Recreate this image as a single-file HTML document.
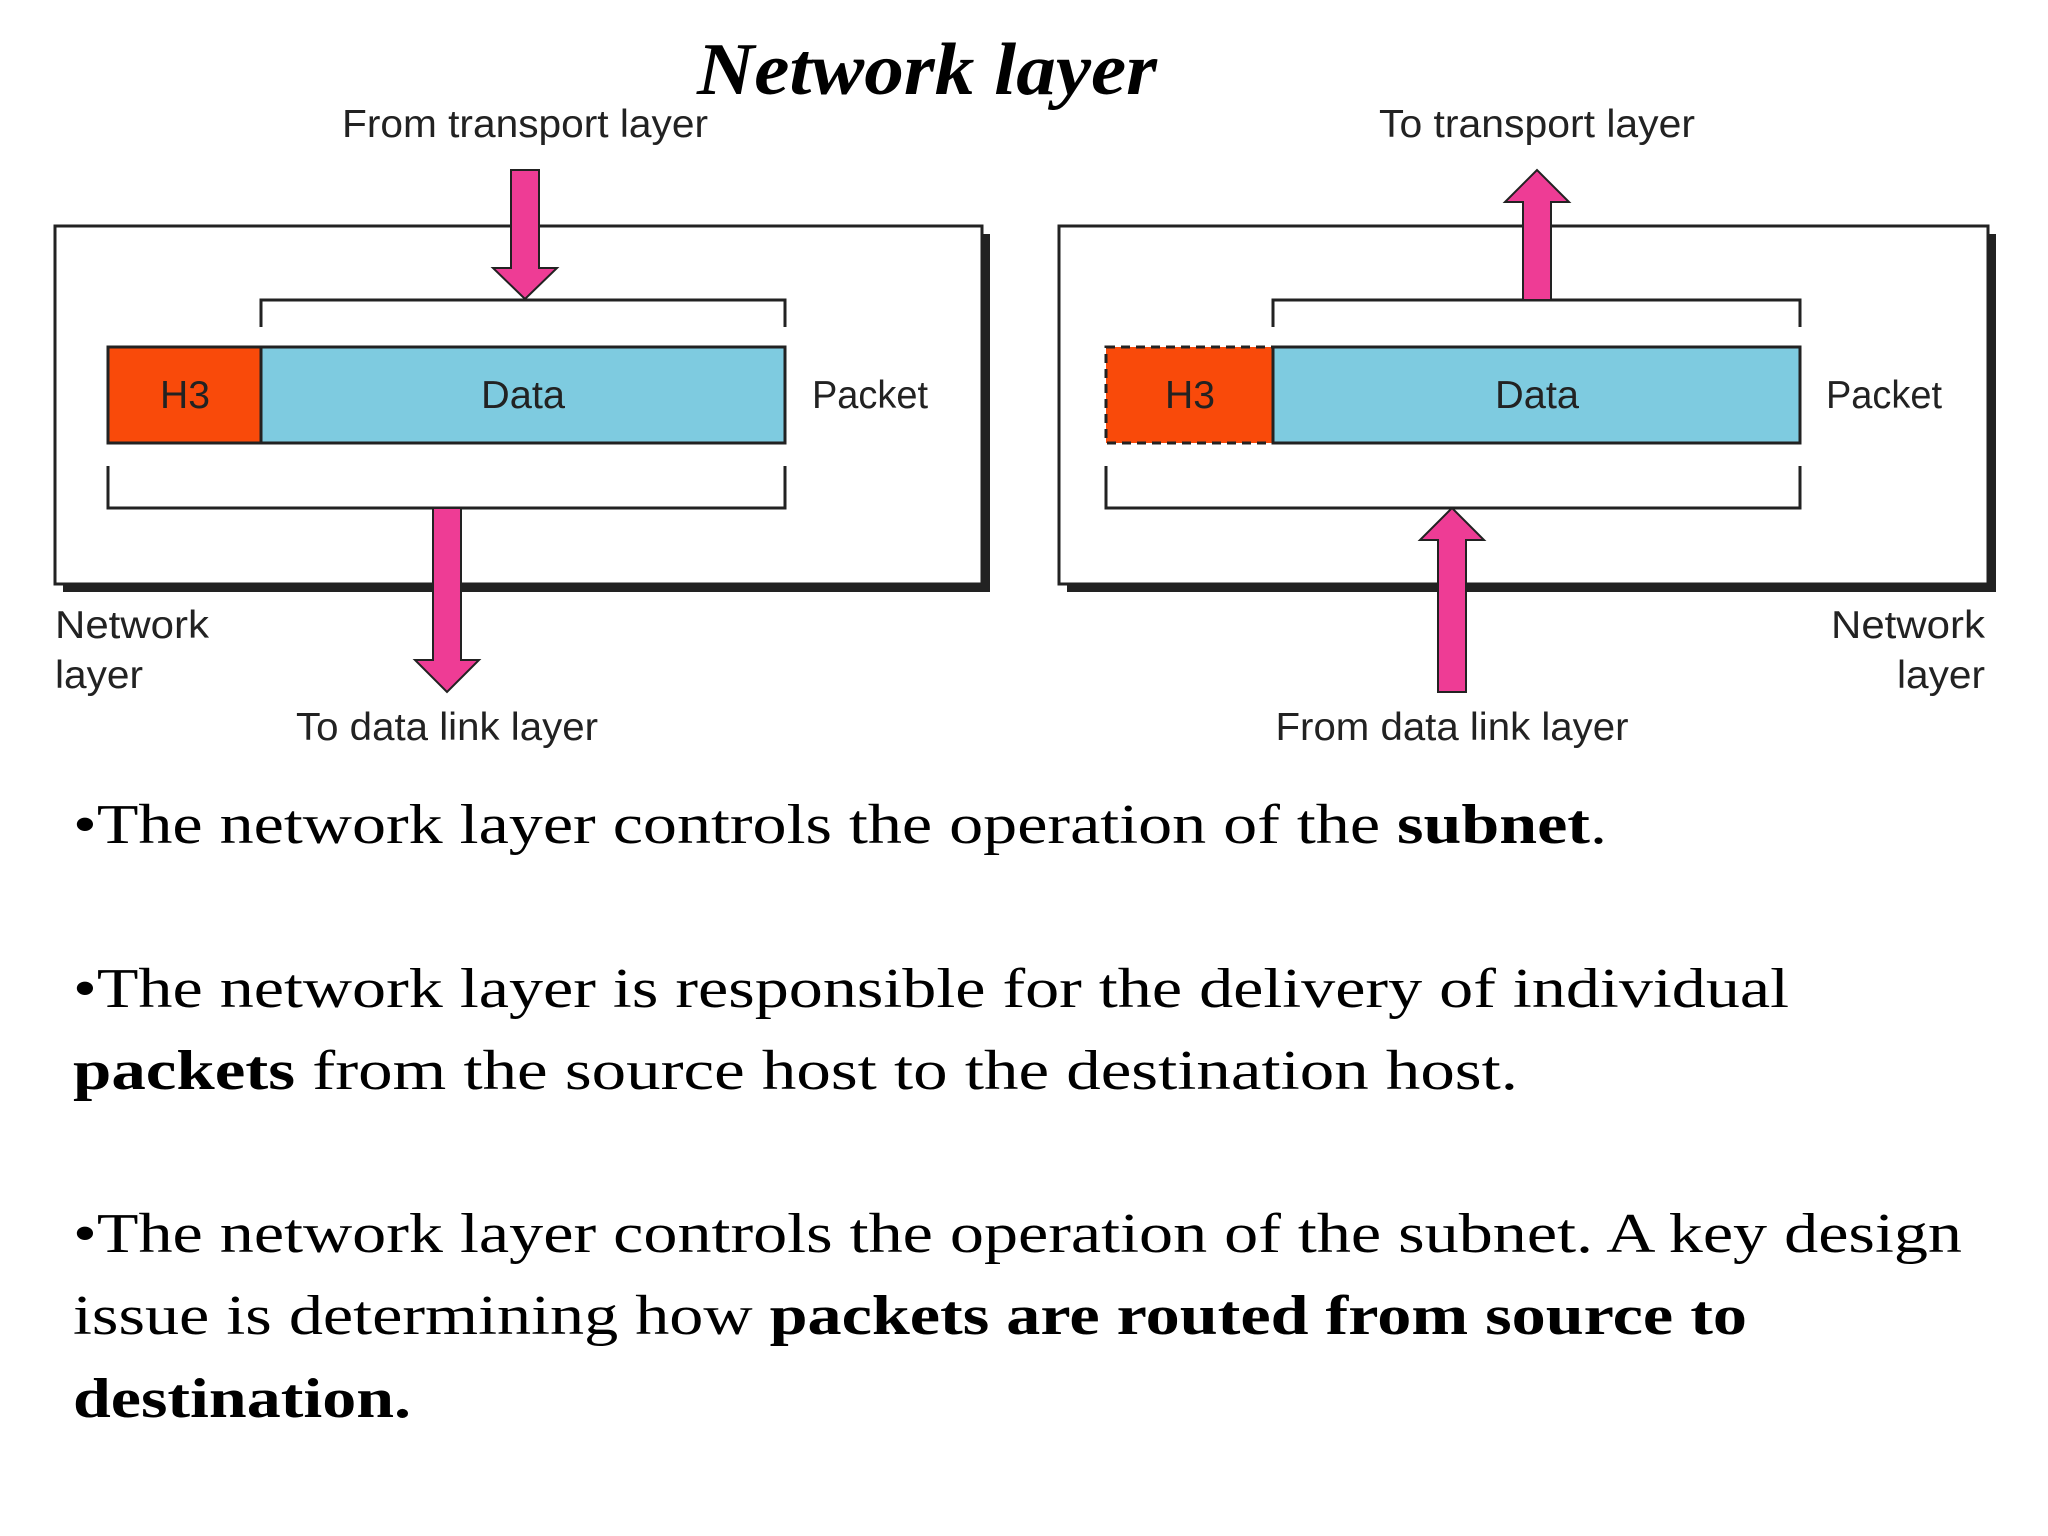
<!DOCTYPE html>
<html><head><meta charset="utf-8"><style>
html,body{margin:0;padding:0;background:#fff;}
svg{display:block;}
.d{font-family:"Liberation Sans",sans-serif;font-size:39px;fill:#222;}
.b{font-family:"Liberation Serif",serif;font-size:56px;fill:#000;}
</style></head><body>
<svg width="2048" height="1536" viewBox="0 0 2048 1536" xmlns="http://www.w3.org/2000/svg">
<rect width="2048" height="1536" fill="#fff"/>
<text x="927" y="94" text-anchor="middle" font-family="Liberation Serif,serif" font-size="74" font-weight="bold" font-style="italic" fill="#000" textLength="460" lengthAdjust="spacingAndGlyphs">Network layer</text>

<!-- Left diagram -->
<rect x="63" y="234" width="927" height="358" fill="#222"/>
<rect x="55" y="226" width="927" height="358" fill="#fff" stroke="#222" stroke-width="3"/>
<rect x="108" y="347" width="153" height="96" fill="#f94a0a" stroke="#222" stroke-width="3"/>
<rect x="261" y="347" width="524" height="96" fill="#7ecbe0" stroke="#222" stroke-width="3"/>
<polyline points="261,327 261,300 785,300 785,327" fill="none" stroke="#222" stroke-width="3"/>
<polyline points="108,466 108,508 785,508 785,466" fill="none" stroke="#222" stroke-width="3"/>
<polygon points="511,170 539,170 539,268 557,268 525,299 493,268 511,268" fill="#ee3c95" stroke="#222" stroke-width="2"/>
<polygon points="433,508 461,508 461,660 479,660 447,692 415,660 433,660" fill="#ee3c95" stroke="#222" stroke-width="2"/>
<text class="d" x="185" y="408" text-anchor="middle" textLength="50" lengthAdjust="spacingAndGlyphs">H3</text>
<text class="d" x="523" y="408" text-anchor="middle" textLength="84" lengthAdjust="spacingAndGlyphs">Data</text>
<text class="d" x="812" y="408" textLength="116" lengthAdjust="spacingAndGlyphs">Packet</text>
<text class="d" x="525" y="137" text-anchor="middle" textLength="366" lengthAdjust="spacingAndGlyphs">From transport layer</text>
<text class="d" x="55" y="638" textLength="154" lengthAdjust="spacingAndGlyphs">Network</text>
<text class="d" x="55" y="688" textLength="88" lengthAdjust="spacingAndGlyphs">layer</text>
<text class="d" x="447" y="740" text-anchor="middle" textLength="302" lengthAdjust="spacingAndGlyphs">To data link layer</text>

<!-- Right diagram -->
<rect x="1067" y="234" width="929" height="358" fill="#222"/>
<rect x="1059" y="226" width="929" height="358" fill="#fff" stroke="#222" stroke-width="3"/>
<rect x="1106" y="347" width="167" height="96" fill="#f94a0a" stroke="#222" stroke-width="3" stroke-dasharray="9,6"/>
<rect x="1273" y="347" width="527" height="96" fill="#7ecbe0" stroke="#222" stroke-width="3"/>
<polyline points="1273,327 1273,300 1800,300 1800,327" fill="none" stroke="#222" stroke-width="3"/>
<polyline points="1106,466 1106,508 1800,508 1800,466" fill="none" stroke="#222" stroke-width="3"/>
<polygon points="1523,300 1551,300 1551,202 1569,202 1537,170 1505,202 1523,202" fill="#ee3c95" stroke="#222" stroke-width="2"/>
<polygon points="1438,692 1466,692 1466,540 1484,540 1452,508 1420,540 1438,540" fill="#ee3c95" stroke="#222" stroke-width="2"/>
<text class="d" x="1190" y="408" text-anchor="middle" textLength="50" lengthAdjust="spacingAndGlyphs">H3</text>
<text class="d" x="1537" y="408" text-anchor="middle" textLength="84" lengthAdjust="spacingAndGlyphs">Data</text>
<text class="d" x="1826" y="408" textLength="116" lengthAdjust="spacingAndGlyphs">Packet</text>
<text class="d" x="1537" y="137" text-anchor="middle" textLength="316" lengthAdjust="spacingAndGlyphs">To transport layer</text>
<text class="d" x="1985" y="638" text-anchor="end" textLength="154" lengthAdjust="spacingAndGlyphs">Network</text>
<text class="d" x="1985" y="688" text-anchor="end" textLength="88" lengthAdjust="spacingAndGlyphs">layer</text>
<text class="d" x="1452" y="740" text-anchor="middle" textLength="353" lengthAdjust="spacingAndGlyphs">From data link layer</text>

<!-- Body text -->
<text class="b" x="73" y="843" textLength="1534" lengthAdjust="spacingAndGlyphs">•The network layer controls the operation of the <tspan font-weight="bold">subnet</tspan>.</text>
<text class="b" x="73" y="1007" textLength="1716" lengthAdjust="spacingAndGlyphs">•The network layer is responsible for the delivery of individual</text>
<text class="b" x="73" y="1089" textLength="1445" lengthAdjust="spacingAndGlyphs"><tspan font-weight="bold">packets</tspan> from  the source host to the destination host.</text>
<text class="b" x="73" y="1252" textLength="1889" lengthAdjust="spacingAndGlyphs">•The network layer controls the operation of the subnet. A key design</text>
<text class="b" x="73" y="1334" textLength="1674" lengthAdjust="spacingAndGlyphs">issue is determining how <tspan font-weight="bold">packets are routed from source to</tspan></text>
<text class="b" x="73" y="1417" font-weight="bold" textLength="338" lengthAdjust="spacingAndGlyphs">destination.</text>
</svg>
</body></html>
